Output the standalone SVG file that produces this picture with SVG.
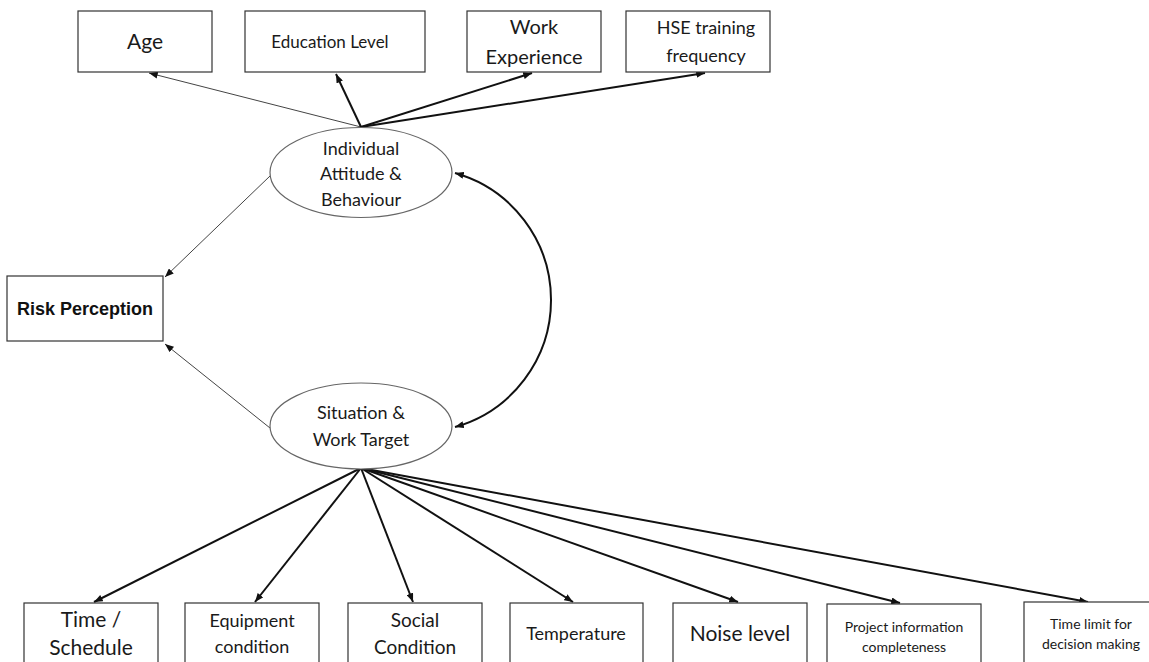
<svg xmlns="http://www.w3.org/2000/svg" width="1149" height="662" viewBox="0 0 1149 662">
<defs>
<style>
.box{fill:#fff;stroke:#333;stroke-width:1.2}
.ell{fill:#fff;stroke:#666;stroke-width:1.2}
.t{font-family:Lato,"Liberation Sans",sans-serif;fill:#1a1a1a;text-anchor:middle}
.rp{font-family:"Liberation Sans",Arial,sans-serif;font-weight:bold;fill:#111;text-anchor:middle}
.thin{stroke:#444;stroke-width:1;fill:none}
.thick{stroke:#111;stroke-width:2;fill:none}
</style>
<marker id="ah" viewBox="0 0 10 8" refX="10" refY="4" markerWidth="9" markerHeight="7" markerUnits="userSpaceOnUse" orient="auto-start-reverse">
<path d="M0,0 L10,4 L0,8 z" fill="#111"/>
</marker>
</defs>
<rect width="1149" height="662" fill="#fff"/>

<g id="connectors">
<line class="thin" x1="361" y1="127" x2="149" y2="73" marker-end="url(#ah)"/>
<line class="thick" x1="361" y1="127" x2="336" y2="74" marker-end="url(#ah)"/>
<line class="thick" x1="361" y1="127" x2="532" y2="73" marker-end="url(#ah)"/>
<line class="thick" x1="361" y1="127" x2="705" y2="73" marker-end="url(#ah)"/>
<line class="thin" x1="270" y1="176" x2="165" y2="277" marker-end="url(#ah)"/>
<line class="thin" x1="270" y1="428" x2="165" y2="344" marker-end="url(#ah)"/>
<path class="thick" d="M455 173 A132 132 0 0 1 455 427" marker-start="url(#ah)" marker-end="url(#ah)"/>
<line class="thick" x1="361" y1="468" x2="94" y2="602" marker-end="url(#ah)"/>
<line class="thick" x1="361" y1="468" x2="255" y2="602" marker-end="url(#ah)"/>
<line class="thick" x1="361" y1="468" x2="413" y2="602" marker-end="url(#ah)"/>
<line class="thick" x1="361" y1="468" x2="573" y2="602" marker-end="url(#ah)"/>
<line class="thick" x1="361" y1="468" x2="738" y2="602" marker-end="url(#ah)"/>
<line class="thick" x1="361" y1="468" x2="900" y2="603" marker-end="url(#ah)"/>
<line class="thick" x1="361" y1="468" x2="1088" y2="602" marker-end="url(#ah)"/>
</g>

<g id="age"><rect class="box" x="78" y="11" width="134" height="61"/><text class="t" x="145" y="49" font-size="21">Age</text></g>
<g id="education"><rect class="box" x="245" y="11" width="180" height="61"/><text class="t" x="330" y="48" font-size="17">Education Level</text></g>
<g id="work-experience"><rect class="box" x="467" y="11" width="134" height="61"/><text class="t" x="534" y="34" font-size="20">Work</text><text class="t" x="534" y="64" font-size="20">Experience</text></g>
<g id="hse"><rect class="box" x="626" y="11" width="144" height="61"/><text class="t" x="706" y="34" font-size="18">HSE training</text><text class="t" x="706" y="62" font-size="18">frequency</text></g>

<g id="individual"><ellipse class="ell" cx="361" cy="172.5" rx="91" ry="45"/><text class="t" x="361" y="155" font-size="18">Individual</text><text class="t" x="361" y="180" font-size="18">Attitude &amp;</text><text class="t" x="361" y="206" font-size="18">Behaviour</text></g>

<g id="risk-perception"><rect class="box" x="7" y="276" width="156" height="65"/><text class="rp" x="85" y="315" font-size="18">Risk Perception</text></g>

<g id="situation"><ellipse class="ell" cx="361" cy="426" rx="91" ry="43"/><text class="t" x="361" y="419" font-size="18">Situation &amp;</text><text class="t" x="361" y="446" font-size="18">Work Target</text></g>

<g id="time-schedule"><rect class="box" x="24" y="603" width="134" height="65"/><text class="t" x="91" y="627" font-size="21">Time /</text><text class="t" x="91" y="655" font-size="21">Schedule</text></g>
<g id="equipment"><rect class="box" x="185" y="603" width="134" height="65"/><text class="t" x="252" y="627" font-size="18">Equipment</text><text class="t" x="252" y="653" font-size="18">condition</text></g>
<g id="social"><rect class="box" x="348" y="603" width="134" height="65"/><text class="t" x="415" y="627" font-size="19">Social</text><text class="t" x="415" y="654" font-size="19">Condition</text></g>
<g id="temperature"><rect class="box" x="510" y="603" width="133" height="65"/><text class="t" x="576" y="640" font-size="18">Temperature</text></g>
<g id="noise"><rect class="box" x="673" y="603" width="134" height="65"/><text class="t" x="740" y="641" font-size="21">Noise level</text></g>
<g id="project-info"><rect class="box" x="827" y="604" width="154" height="64"/><text class="t" x="904" y="632" font-size="14">Project information</text><text class="t" x="904" y="652" font-size="14">completeness</text></g>
<g id="time-limit"><rect class="box" x="1024" y="602" width="130" height="66"/><text class="t" x="1091" y="629" font-size="14">Time limit for</text><text class="t" x="1091" y="649" font-size="14">decision making</text></g>
</svg>
